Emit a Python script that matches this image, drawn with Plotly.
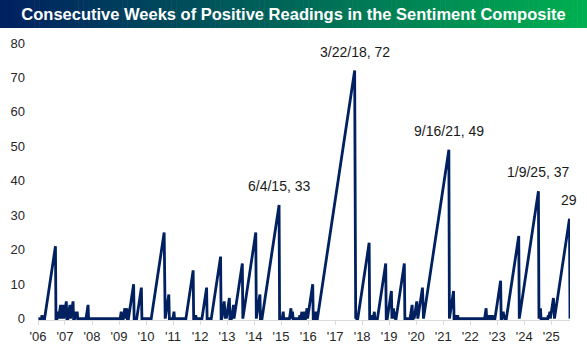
import pandas as pd
import plotly.graph_objects as go

# Sentiment Composite: runs of consecutive positive weekly readings.
# Each run is recorded by the week it ended and how many weeks it lasted;
# every other week the counter sits at zero.
series_start = "2006-07-06"
series_end = "2026-03-12"

streak_end = [
    "2006-08-24", "2007-02-22", "2007-03-29", "2007-05-03", "2007-06-07",
    "2007-07-19", "2007-09-06", "2007-10-18", "2007-11-22", "2007-12-13",
    "2008-05-08", "2009-07-30", "2009-09-17", "2009-10-15", "2010-01-14",
    "2010-04-29", "2011-03-03", "2011-05-05", "2011-07-14", "2012-03-29",
    "2012-05-03", "2012-09-27", "2013-04-04", "2013-05-23", "2013-06-13",
    "2013-08-01", "2013-09-26", "2014-01-23", "2014-07-24", "2014-09-18",
    "2015-06-04", "2015-07-30", "2015-11-12", "2015-12-03", "2016-03-10",
    "2016-04-07", "2016-05-12", "2016-06-16", "2016-09-01", "2016-10-13",
    "2018-03-22", "2018-04-12", "2018-10-04", "2018-11-01", "2018-12-13",
    "2019-05-16", "2019-08-01", "2019-08-29", "2019-09-19", "2020-01-23",
    "2020-05-07", "2020-05-28", "2020-07-09", "2020-09-24", "2021-09-16",
    "2021-11-18", "2021-12-23", "2022-01-13", "2023-02-02", "2023-02-23",
    "2023-03-23", "2023-04-27", "2023-08-17", "2023-09-21", "2023-10-12",
    "2024-04-18", "2025-01-09", "2025-02-06", "2025-05-22", "2025-06-12",
    "2025-07-31", "2026-03-05",
]
streak_weeks = [
    1, 21, 2, 4, 4,
    5, 4, 5, 2, 2,
    4, 2, 3, 3, 10,
    9, 25, 7, 2, 14,
    1, 9, 18, 5, 1,
    6, 4, 16, 25, 7,
    33, 2, 3, 2, 1,
    2, 2, 3, 10, 2,
    72, 1, 22, 1, 2,
    16, 8, 3, 2, 16,
    4, 1, 5, 9, 49,
    8, 1, 1, 3, 1,
    1, 1, 11, 2, 1,
    24, 37, 3, 1, 2,
    6, 29,
]

# Runs called out on the chart; the latest one shows its length only
labelled_runs = ["2015-06-04", "2018-03-22", "2021-09-16", "2025-01-09", "2026-03-05"]
label_shows_date = [True, True, True, True, False]

tick_years = list(range(2006, 2026))
tick_labels = ["'" + str(y)[2:] for y in tick_years]

NAVY = "#002060"
GREEN = "#00B050"

# Weekly counter path: zero, climb one per week to the run length, back to zero
xs = [pd.Timestamp(series_start)]
ys = [0]
for end, n in zip(streak_end, streak_weeks):
    end = pd.Timestamp(end)
    xs += [end - pd.Timedelta(weeks=n), end, end + pd.Timedelta(weeks=1)]
    ys += [0, n, 0]
xs.append(pd.Timestamp(series_end))
ys.append(0)

fig = go.Figure()
fig.add_trace(go.Scatter(
    x=xs, y=ys, mode="lines",
    line=dict(color=NAVY, width=2.8),
    hoverinfo="skip", showlegend=False,
))

run_length = dict(zip(streak_end, streak_weeks))
for d, with_date in zip(labelled_runs, label_shows_date):
    ts = pd.Timestamp(d)
    n = run_length[d]
    text = f"{ts.month}/{ts.day}/{ts:%y}, {n}" if with_date else f"{n}"
    fig.add_annotation(
        x=ts, y=n, text=text, showarrow=False,
        yanchor="middle", yshift=19,
        font=dict(family="Liberation Sans, Arial, sans-serif", size=14, color="#1a1a1a"),
    )

W, H = 587, 344
ML, MR, MT, MB = 38, 17, 43, 24
PW = W - ML - MR
PH = H - MT - MB
BAR_H = 28


def px_to_paper_x(px):
    return (px - ML) / PW


def px_to_paper_y(py):
    return (H - MB - py) / PH


def mix(c1, c2, t):
    a = [int(c1[i:i + 2], 16) for i in (1, 3, 5)]
    b = [int(c2[i:i + 2], 16) for i in (1, 3, 5)]
    return "rgb(%d,%d,%d)" % tuple(round(a[k] + (b[k] - a[k]) * t) for k in range(3))


# Title banner: horizontal navy-to-green gradient built from thin strips
steps = 120
for i in range(steps):
    x0 = W * i / steps
    x1 = W * (i + 1) / steps + 0.6
    fig.add_shape(
        type="rect", xref="paper", yref="paper",
        x0=px_to_paper_x(x0), x1=px_to_paper_x(x1),
        y0=px_to_paper_y(BAR_H), y1=px_to_paper_y(0),
        fillcolor=mix(NAVY, GREEN, (i + 0.5) / steps),
        line=dict(width=0), layer="below",
    )

tick_font = dict(family="Liberation Sans, Arial, sans-serif", size=13, color="#262626")

fig.update_layout(
    width=W, height=H,
    margin=dict(l=ML, r=MR, t=MT, b=MB, pad=0, autoexpand=False),
    paper_bgcolor="white", plot_bgcolor="white",
    title=dict(
        text="<b>Consecutive Weeks of Positive Readings in the Sentiment Composite</b>",
        x=0.5, xref="container", xanchor="center",
        y=1 - (BAR_H / 2) / H, yref="container", yanchor="middle",
        font=dict(family="Liberation Sans, Arial, sans-serif", size=16.5, color="white"),
    ),
    xaxis=dict(
        type="date",
        range=["2006-07-01", series_end],
        tickvals=[f"{y}-07-01" for y in tick_years],
        ticktext=tick_labels,
        ticks="outside", ticklen=4, tickcolor="#d9d9d9", tickwidth=1,
        showline=True, linecolor="#d9d9d9", linewidth=1,
        showgrid=False, zeroline=False, automargin=False,
        tickfont=tick_font,
    ),
    yaxis=dict(
        range=[-0.4, 80],
        tickvals=list(range(0, 81, 10)),
        showgrid=False, zeroline=False, showline=False,
        ticks="", ticklabelstandoff=12, automargin=False,
        tickfont=tick_font,
    ),
)

fig.write_html("out.html")
